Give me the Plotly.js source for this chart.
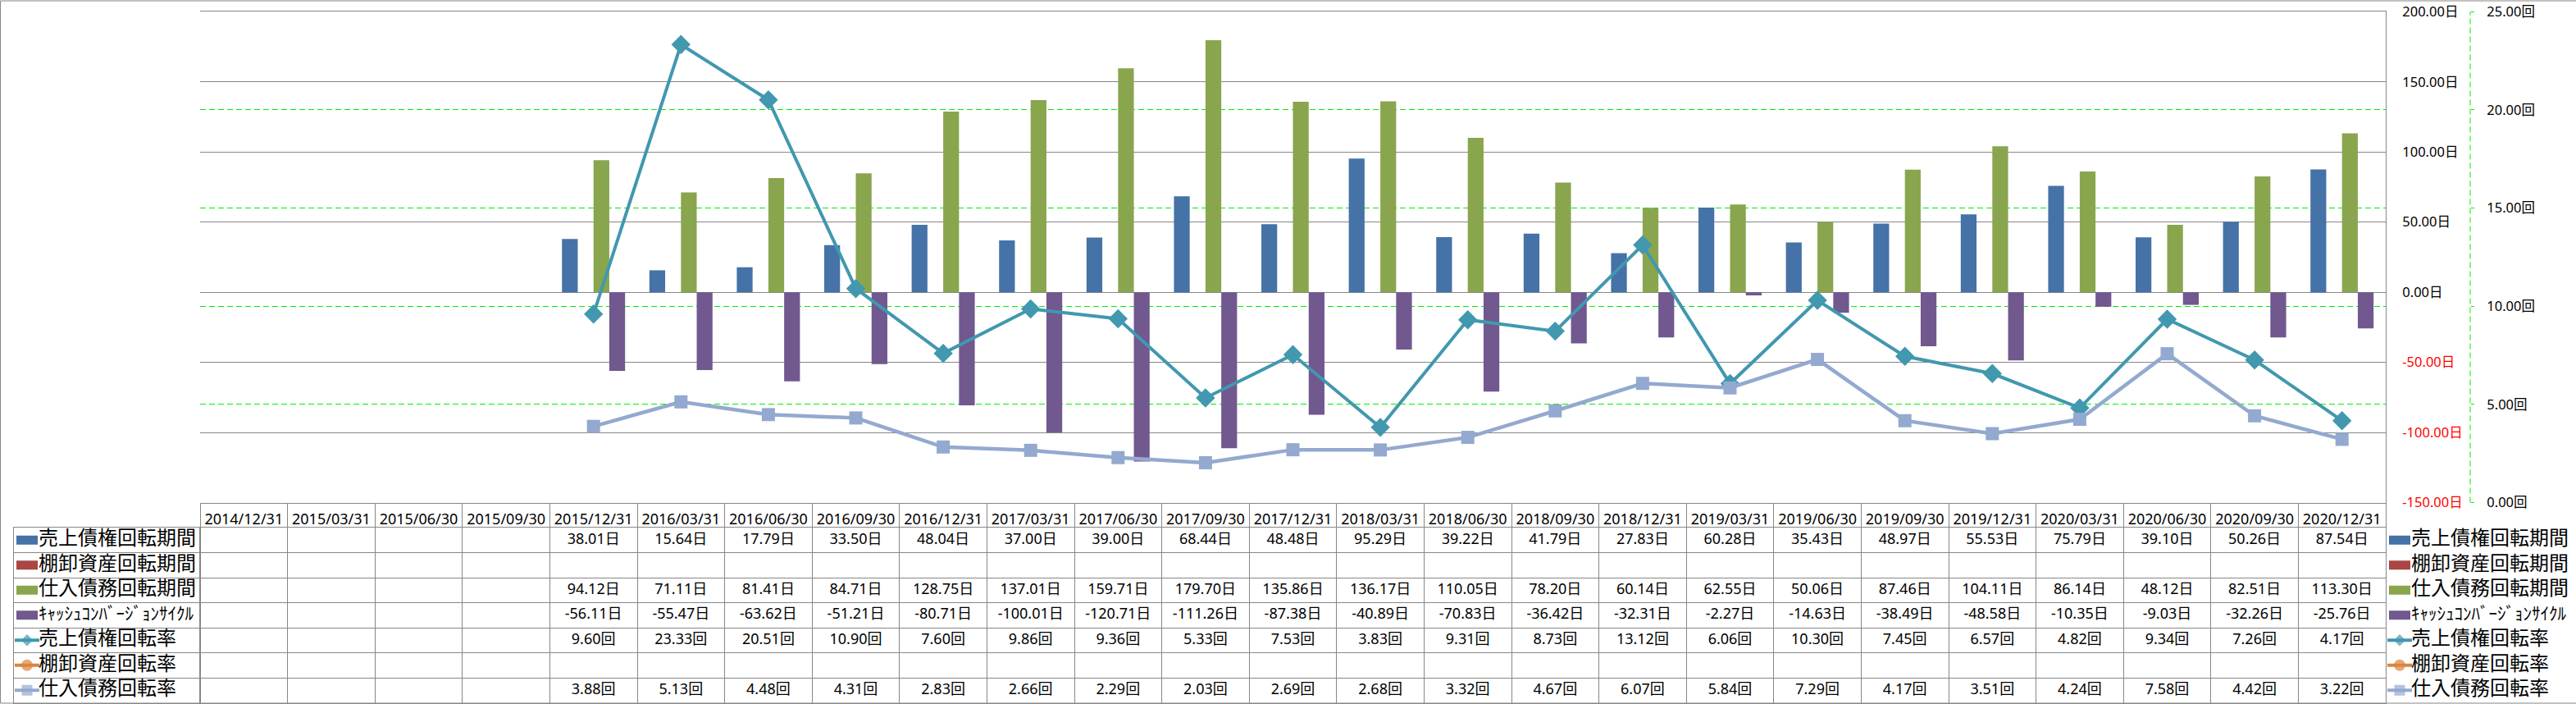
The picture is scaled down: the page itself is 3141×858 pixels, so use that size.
<!DOCTYPE html>
<html>
<head>
<meta charset="utf-8">
<script src="https://cdn.plot.ly/plotly-3.0.1.min.js"></script>
<style>
html,body{margin:0;padding:0;background:#ffffff;}
#chart{width:3141px;height:858px;}
</style>
</head>
<body>
<div id="chart"></div>
<script>
// ---------- data ----------
const dates = ['2014/12/31','2015/03/31','2015/06/30','2015/09/30','2015/12/31',
  '2016/03/31','2016/06/30','2016/09/30','2016/12/31',
  '2017/03/31','2017/06/30','2017/09/30','2017/12/31',
  '2018/03/31','2018/06/30','2018/09/30','2018/12/31',
  '2019/03/31','2019/06/30','2019/09/30','2019/12/31',
  '2020/03/31','2020/06/30','2020/09/30','2020/12/31'];

const seriesNames = ['売上債権回転期間','棚卸資産回転期間','仕入債務回転期間','ｷｬｯｼｭｺﾝﾊﾞｰｼﾞｮﾝｻｲｸﾙ',
  '売上債権回転率','棚卸資産回転率','仕入債務回転率'];

const receivableDays = [null,null,null,null,38.01,15.64,17.79,33.50,48.04,37.00,39.00,68.44,48.48,
  95.29,39.22,41.79,27.83,60.28,35.43,48.97,55.53,75.79,39.10,50.26,87.54];
const inventoryDays = [null,null,null,null,null,null,null,null,null,null,null,null,null,
  null,null,null,null,null,null,null,null,null,null,null,null];
const payableDays = [null,null,null,null,94.12,71.11,81.41,84.71,128.75,137.01,159.71,179.70,135.86,
  136.17,110.05,78.20,60.14,62.55,50.06,87.46,104.11,86.14,48.12,82.51,113.30];
const cashConversionCycle = [null,null,null,null,-56.11,-55.47,-63.62,-51.21,-80.71,-100.01,-120.71,-111.26,-87.38,
  -40.89,-70.83,-36.42,-32.31,-2.27,-14.63,-38.49,-48.58,-10.35,-9.03,-32.26,-25.76];
const receivableTurnover = [null,null,null,null,9.60,23.33,20.51,10.90,7.60,9.86,9.36,5.33,7.53,
  3.83,9.31,8.73,13.12,6.06,10.30,7.45,6.57,4.82,9.34,7.26,4.17];
const inventoryTurnover = [null,null,null,null,null,null,null,null,null,null,null,null,null,
  null,null,null,null,null,null,null,null,null,null,null,null];
const payableTurnover = [null,null,null,null,3.88,5.13,4.48,4.31,2.83,2.66,2.29,2.03,2.69,
  2.68,3.32,4.67,6.07,5.84,7.29,4.17,3.51,4.24,7.58,4.42,3.22];

const dayTicks = [-150,-100,-50,0,50,100,150,200];
const rateTicks = [0,5,10,15,20,25];
const dayUnit = '日';
const rateUnit = '回';

// ---------- styling ----------
const W = 3141, H = 858;
const px = v => v / W;
const py = v => 1 - v / H;
const colors = ['#4572A7','#AA4643','#89A54E','#71588F','#4198AF','#DB843D','#93A9CF'];
const GRID = '#878787';
const GREEN = '#00F000';
const NUM_FONT = 'Noto Sans, Noto Sans CJK JP, sans-serif';
const JP_FONT = 'Noto Sans CJK JP, sans-serif';

const seriesValues = [receivableDays, inventoryDays, payableDays, cashConversionCycle,
  receivableTurnover, inventoryTurnover, payableTurnover];
const seriesUnits = [dayUnit, dayUnit, dayUnit, dayUnit, rateUnit, rateUnit, rateUnit];
const lineSymbols = {4:'diamond', 5:'circle', 6:'square'};
const lineMarkerSize = {4:18, 5:16, 6:16};
const lineWidths = {4:4, 5:4, 6:4.5};
const keyMarkerSize = {4:11, 5:14, 6:13};
const labelSizes = seriesNames.map((n, i) => i === 3 ? 21 : 24);

const traces = [];
// bars (primary axis, days)
for (let i = 0; i < 4; i++) {
  traces.push({
    type:'bar', name: seriesNames[i], x: dates, y: seriesValues[i],
    xaxis:'x', yaxis:'y',
    marker:{color: colors[i], line:{width:0}},
    hoverinfo:'skip', showlegend:false
  });
}
// lines (secondary axis, turnover)
for (let i = 4; i < 7; i++) {
  traces.push({
    type:'scatter', mode:'lines+markers', name: seriesNames[i], x: dates, y: seriesValues[i],
    xaxis:'x', yaxis:'y2',
    line:{color: colors[i], width: lineWidths[i]},
    marker:{symbol: lineSymbols[i], size: lineMarkerSize[i], color: colors[i], line:{width:0}},
    hoverinfo:'skip', showlegend:false, cliponaxis:false
  });
}
// data table cells
for (let i = 0; i < 7; i++) {
  traces.push({
    type:'scatter', mode:'text', x: dates, y: dates.map(() => seriesNames[i]),
    text: seriesValues[i].map(v => v === null ? '' : v.toFixed(2) + seriesUnits[i]),
    textposition:'middle center',
    textfont:{family: NUM_FONT, size:18, color:'#000000'},
    xaxis:'x2', yaxis:'y3', hoverinfo:'skip', showlegend:false, cliponaxis:false
  });
}
// legend keys (table left column, x3/y4) and right legend (x4/y5)
const keyPlaces = [{xa:'x3', ya:'y4'}, {xa:'x4', ya:'y5'}];
keyPlaces.forEach((p, k) => {
  const off = k === 0 ? 3 : 4;
  for (let i = 0; i < 7; i++) {
    if (i < 4) {
      traces.push({
        type:'scatter', mode:'lines', x:[off, off + 26], y:[seriesNames[i], seriesNames[i]],
        line:{color: colors[i], width:11}, xaxis:p.xa, yaxis:p.ya,
        hoverinfo:'skip', showlegend:false, cliponaxis:false
      });
    } else {
      traces.push({
        type:'scatter', mode:'lines+markers', x:[off - 2, off + 13, off + 28],
        y:[seriesNames[i], seriesNames[i], seriesNames[i]],
        line:{color: colors[i], width:4},
        marker:{symbol: lineSymbols[i], size:[0, keyMarkerSize[i], 0], color: colors[i], line:{width:0}},
        xaxis:p.xa, yaxis:p.ya, hoverinfo:'skip', showlegend:false, cliponaxis:false
      });
    }
  }
  traces.push({
    type:'scatter', mode:'text', x: seriesNames.map(() => off + 27), y: seriesNames,
    text: seriesNames, textposition:'middle right',
    textfont:{family: JP_FONT, size: labelSizes, color:'#000000'},
    xaxis:p.xa, yaxis:p.ya, hoverinfo:'skip', showlegend:false, cliponaxis:false
  });
});

const dayText = dayTicks.map(v => {
  const s = v.toFixed(2) + dayUnit;
  return v < 0 ? '<span style="color:#FF0000">' + s + '</span>' : s;
});
const rateText = rateTicks.map(v => v.toFixed(2) + rateUnit);

const plotDomainX = [px(244), px(2909)];
const plotDomainY = [py(612.5), py(14.3)];
const tableDomainY = [py(856.5), py(643)];
const catRange = [-0.5, dates.length - 0.5];
const rowRange = [seriesNames.length - 0.5, -0.5];

const layout = {
  width: W, height: H,
  margin:{l:0, r:0, t:0, b:0, pad:0},
  paper_bgcolor:'#ffffff', plot_bgcolor:'rgba(0,0,0,0)',
  showlegend:false,
  barmode:'group', bargap:0.278, bargroupgap:0,
  font:{family: NUM_FONT, color:'#000000'},
  xaxis:{
    type:'category', categoryorder:'array', categoryarray: dates, range: catRange,
    domain: plotDomainX, anchor:'y',
    showgrid:false, zeroline:false,
    showline:true, linecolor: GRID, linewidth:1, mirror:true,
    ticks:'outside', tickson:'boundaries', ticklen:31, tickcolor: GRID, tickwidth:1,
    tickangle:0, ticklabelstandoff:4,
    tickfont:{family: NUM_FONT, size:18, color:'#000000'},
    automargin:false, fixedrange:true
  },
  yaxis:{
    domain: plotDomainY, anchor:'x', side:'right',
    range:[dayTicks[0], dayTicks[dayTicks.length - 1]],
    tickmode:'array', tickvals: dayTicks, ticktext: dayText,
    showgrid:true, gridcolor: GRID, gridwidth:1, zeroline:false,
    showline:true, linecolor: GRID, linewidth:1,
    ticks:'', ticklabelstandoff:16,
    tickfont:{family: NUM_FONT, size:16.5, color:'#000000'},
    automargin:false, fixedrange:true
  },
  yaxis2:{
    domain: plotDomainY, overlaying:'y', side:'right', anchor:'free', position: px(3012),
    range:[rateTicks[0], rateTicks[rateTicks.length - 1]],
    tickmode:'array', tickvals: rateTicks, ticktext: rateText,
    showgrid:true, gridcolor: GREEN, gridwidth:1, griddash:'7px,4px', zeroline:false,
    showline:false,
    ticks:'outside', ticklen:4, tickcolor: GREEN, tickwidth:1, ticklabelstandoff:12,
    tickfont:{family: NUM_FONT, size:16.5, color:'#000000'},
    automargin:false, fixedrange:true
  },
  xaxis2:{
    type:'category', categoryorder:'array', categoryarray: dates, range: catRange,
    domain: plotDomainX, anchor:'y3',
    showgrid:true, tickson:'boundaries', gridcolor: GRID, gridwidth:1,
    showticklabels:false, ticks:'', zeroline:false,
    showline:true, mirror:true, linecolor: GRID, linewidth:1,
    automargin:false, fixedrange:true
  },
  yaxis3:{
    type:'category', categoryorder:'array', categoryarray: seriesNames, range: rowRange,
    domain: tableDomainY, anchor:'x2',
    showgrid:true, tickson:'boundaries', gridcolor: GRID, gridwidth:1,
    showticklabels:false, ticks:'', zeroline:false,
    showline:true, mirror:true, linecolor: GRID, linewidth:1,
    automargin:false, fixedrange:true
  },
  xaxis3:{
    domain:[px(17), px(244)], range:[0, 227], anchor:'y4',
    showgrid:false, zeroline:false, showticklabels:false, ticks:'',
    showline:true, mirror:true, linecolor: GRID, linewidth:1,
    automargin:false, fixedrange:true
  },
  yaxis4:{
    type:'category', categoryorder:'array', categoryarray: seriesNames, range: rowRange,
    domain: tableDomainY, anchor:'x3',
    showgrid:true, tickson:'boundaries', gridcolor: GRID, gridwidth:1,
    showticklabels:false, ticks:'', zeroline:false,
    showline:true, mirror:true, linecolor: GRID, linewidth:1,
    automargin:false, fixedrange:true
  },
  xaxis4:{
    domain:[px(2909), 1], range:[0, 232], anchor:'y5', visible:false, fixedrange:true
  },
  yaxis5:{
    type:'category', categoryorder:'array', categoryarray: seriesNames, range: rowRange,
    domain: tableDomainY, anchor:'x4', visible:false, fixedrange:true
  },
  shapes:[
    {type:'rect', xref:'paper', yref:'paper', x0:px(0.5), x1:px(3145), y0:py(857), y1:py(1),
     line:{color: GRID, width:1}, fillcolor:'rgba(0,0,0,0)', layer:'below'},
    {type:'line', xref:'paper', yref:'paper', x0:px(3012), x1:px(3012), y0:plotDomainY[0], y1:plotDomainY[1],
     line:{color: GREEN, width:1, dash:'7px,4px'}}
  ]
};

Plotly.newPlot('chart', traces, layout, {displayModeBar:false, staticPlot:true});
</script>
</body>
</html>
